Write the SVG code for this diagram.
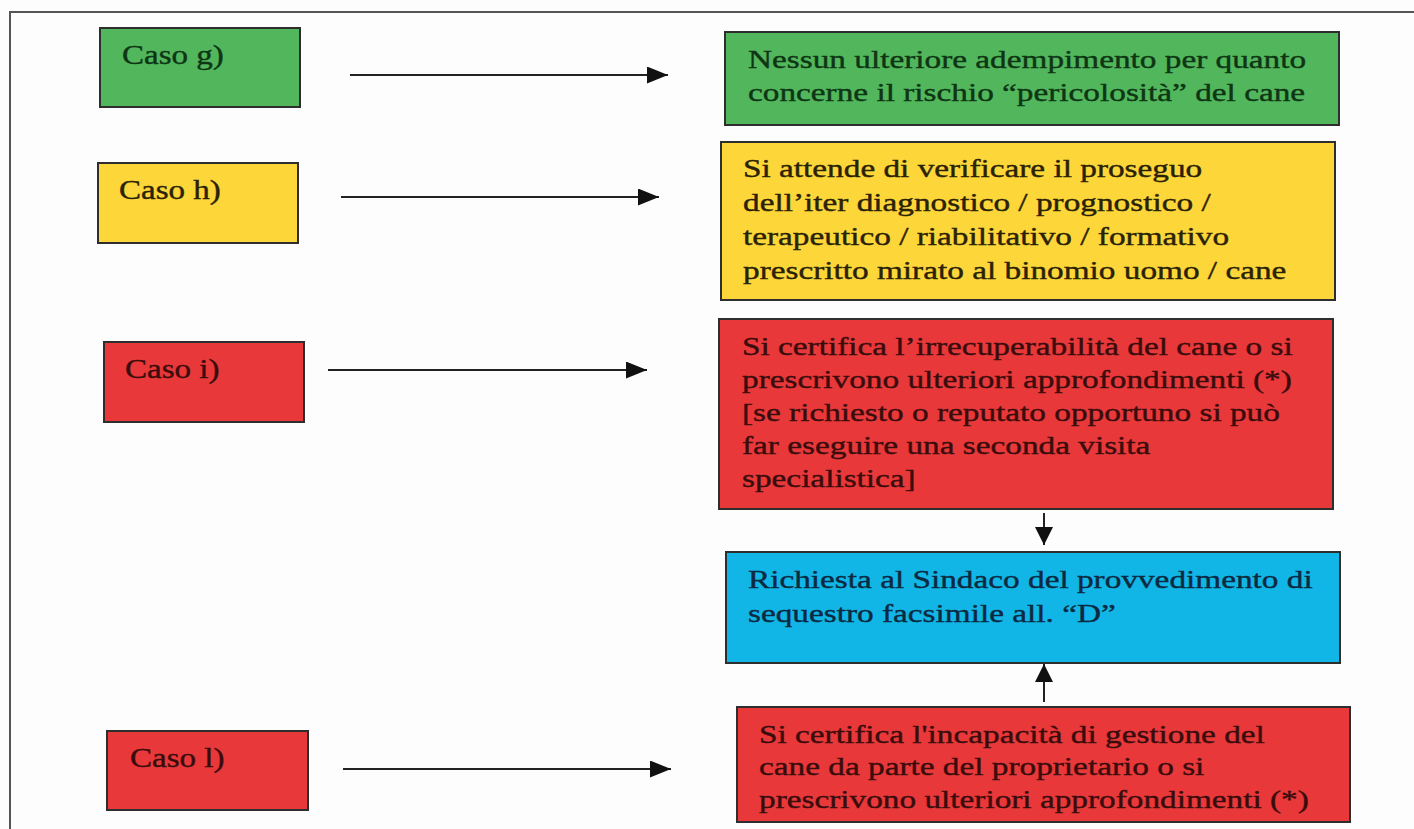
<svg xmlns="http://www.w3.org/2000/svg" width="1414" height="829" viewBox="0 0 1414 829">
<defs>
<style>
.bg{fill:#fdfdfd}
.frame{stroke:#555;stroke-width:2;fill:none}
.box{stroke:#2e2e2e;stroke-width:2}
.green{fill:#52b75c}
.yellow{fill:#fdd63a}
.red{fill:#e8383a}
.blue{fill:#12b6e6}
.lbl{font-family:"Liberation Serif","Times New Roman",serif;font-size:28px;stroke-width:0.4}
.txt{font-family:"Liberation Serif","Times New Roman",serif;font-size:26px;stroke-width:0.4}
.tg{fill:#0e3514;stroke:#0e3514}
.ty{fill:#2a2205;stroke:#2a2205}
.tr{fill:#3a0c0c;stroke:#3a0c0c}
.tb{fill:#0b2a42;stroke:#0b2a42}
.conn{stroke:#222;stroke-width:2;fill:none}
</style>
<marker id="ah" markerWidth="21" markerHeight="17" refX="21" refY="8.5" orient="auto" markerUnits="userSpaceOnUse">
<path d="M0,0 L21,8.5 L0,17 Z" fill="#111"/>
</marker>
<marker id="ahs" markerWidth="18" markerHeight="18" refX="18" refY="9" orient="auto" markerUnits="userSpaceOnUse">
<path d="M0,0 L18,9 L0,18 Z" fill="#111"/>
</marker>
</defs>
<rect class="bg" x="0" y="0" width="1414" height="829"/>
<path class="frame" d="M10,829 L10,12 L1414,12"/>

<g id="caso-g">
<rect class="box green" x="100" y="28" width="200" height="79"/>
<text class="lbl tg" transform="translate(122,64) scale(1.18,1)">Caso g)</text>
</g>
<g id="caso-h">
<rect class="box yellow" x="98" y="163" width="200" height="80"/>
<text class="lbl ty" transform="translate(119,199) scale(1.18,1)">Caso h)</text>
</g>
<g id="caso-i">
<rect class="box red" x="104" y="342" width="200" height="80"/>
<text class="lbl tr" transform="translate(125,378) scale(1.18,1)">Caso i)</text>
</g>
<g id="caso-l">
<rect class="box red" x="107" y="731" width="201" height="79"/>
<text class="lbl tr" transform="translate(130,767) scale(1.18,1)">Caso l)</text>
</g>

<g id="esito-g">
<rect class="box green" x="725" y="32" width="614" height="93"/>
<text class="txt tg" transform="translate(748,68) scale(1.28,1)"><tspan x="0" y="0">Nessun ulteriore adempimento per quanto</tspan><tspan x="0" y="33">concerne il rischio “pericolosità” del cane</tspan></text>
</g>
<g id="esito-h">
<rect class="box yellow" x="721" y="142" width="614" height="158"/>
<text class="txt ty" transform="translate(743,177) scale(1.28,1)"><tspan x="0" y="0">Si attende di verificare il proseguo</tspan><tspan x="0" y="34">dell’iter diagnostico / prognostico /</tspan><tspan x="0" y="68">terapeutico / riabilitativo / formativo</tspan><tspan x="0" y="102">prescritto mirato al binomio uomo / cane</tspan></text>
</g>
<g id="esito-i">
<rect class="box red" x="719" y="319" width="614" height="190"/>
<text class="txt tr" transform="translate(742,355) scale(1.28,1)"><tspan x="0" y="0">Si certifica l’irrecuperabilità del cane o si</tspan><tspan x="0" y="33">prescrivono ulteriori approfondimenti (*)</tspan><tspan x="0" y="66">[se richiesto o reputato opportuno si può</tspan><tspan x="0" y="99">far eseguire una seconda visita</tspan><tspan x="0" y="132">specialistica]</tspan></text>
</g>
<g id="sequestro">
<rect class="box blue" x="726" y="552" width="614" height="111"/>
<text class="txt tb" transform="translate(748,588) scale(1.28,1)"><tspan x="0" y="0">Richiesta al Sindaco del provvedimento di</tspan><tspan x="0" y="34">sequestro facsimile all. “D”</tspan></text>
</g>
<g id="esito-l">
<rect class="box red" x="737" y="707" width="613" height="115"/>
<text class="txt tr" transform="translate(759,743) scale(1.28,1)"><tspan x="0" y="0">Si certifica l'incapacità di gestione del</tspan><tspan x="0" y="32.5">cane da parte del proprietario o si</tspan><tspan x="0" y="65">prescrivono ulteriori approfondimenti (*)</tspan></text>
</g>

<g id="connectors">
<line class="conn" x1="350" y1="75" x2="668" y2="75" marker-end="url(#ah)"/>
<line class="conn" x1="341" y1="197" x2="659" y2="197" marker-end="url(#ah)"/>
<line class="conn" x1="328" y1="370" x2="647" y2="370" marker-end="url(#ah)"/>
<line class="conn" x1="343" y1="769" x2="671" y2="769" marker-end="url(#ah)"/>
<line class="conn" x1="1044" y1="513" x2="1044" y2="545" marker-end="url(#ahs)"/>
<line class="conn" x1="1044" y1="702" x2="1044" y2="664" marker-end="url(#ahs)"/>
</g>
</svg>
